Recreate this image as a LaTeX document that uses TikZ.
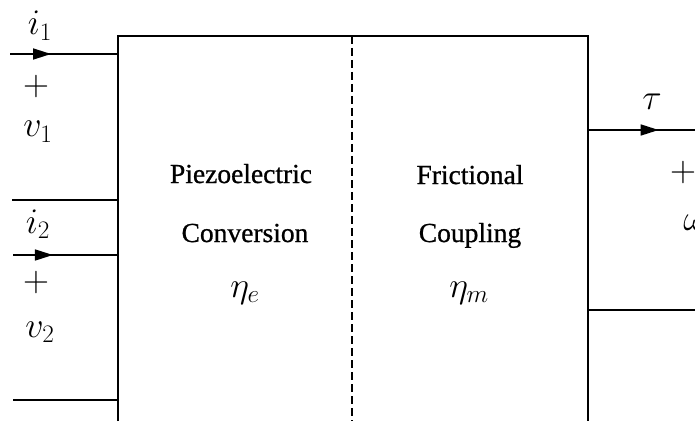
\RequirePackage{fix-cm}
\documentclass[tikz,border=0pt]{standalone}
\usepackage{fontspec}
\setmainfont{Liberation Serif}
\newfontfamily\boxfont{Liberation Serif}[FakeBold=0.8]
\usetikzlibrary{arrows.meta,decorations.markings}
\tikzset{
  wire/.style={line width=1.7pt},
  flowwire/.style={line width=1.7pt, postaction={decorate}, decoration={markings, mark=at position #1 with {\arrow{Triangle[length=18pt,width=11pt]}}}},
  boxline/.style={line width=2pt},
  sep/.style={line width=2pt, dash pattern=on 8pt off 4pt},
  lbl/.style={inner sep=0pt, anchor=base, font=\boxfont\fontsize{27.5}{32}\selectfont},
  mlbl/.style={inner sep=0pt, anchor=base, font=\fontsize{36}{42}\selectfont},
}
\begin{document}
\begin{tikzpicture}[x=1pt,y=-1pt]
\useasboundingbox (0,0) rectangle (695,422);
% box corners
\coordinate (tl) at (118,36);
\coordinate (tr) at (588,36);
\coordinate (bl) at (118,421);
\coordinate (br) at (588,421);
\coordinate (dt) at (352,36);
\coordinate (db) at (352,421);
\draw[boxline] (bl) -- (tl) -- (tr) -- (br);
\draw[sep] (dt) -- (db);
% left port wires
\coordinate (a1) at (10,54);   \coordinate (b1) at (118,54);
\coordinate (a2) at (12,200);  \coordinate (b2) at (118,200);
\coordinate (a3) at (13,255);  \coordinate (b3) at (118,255);
\coordinate (a4) at (13,400);  \coordinate (b4) at (118,400);
\draw[flowwire=0.38] (a1) -- (b1);
\draw[wire] (a2) -- (b2);
\draw[flowwire=0.38] (a3) -- (b3);
\draw[wire] (a4) -- (b4);
% right port wires
\coordinate (c1) at (588,130); \coordinate (d1) at (695,130);
\coordinate (c2) at (588,310); \coordinate (d2) at (695,310);
\draw[flowwire=0.66] (c1) -- (d1);
\draw[wire] (c2) -- (d2);
% left labels
\node[mlbl] (i1) at (40,35) {$i_1$};
\node[mlbl] (p1) at (36,96) {$+$};
\node[mlbl] (v1) at (38,137) {$v_1$};
\node[mlbl] (i2) at (38,233) {$i_2$};
\node[mlbl] (p2) at (36,291) {$+$};
\node[mlbl] (v2) at (40,337) {$v_2$};
% right labels
\node[mlbl] (tau) at (652,110) {$\tau$};
\node[mlbl] (p3) at (683,181) {$+$};
\node[mlbl] (om) at (695,230) {$\omega$};
% box texts
\node[lbl] (t1) at (241,183) {Piezoelectric};
\node[lbl] (t2) at (245,242) {Conversion};
\node[mlbl] (e1) at (245,297) {$\eta_e$};
\node[lbl] (t3) at (470,184) {Frictional};
\node[lbl] (t4) at (470,242) {Coupling};
\node[mlbl] (e2) at (469,297) {$\eta_m$};
\end{tikzpicture}
\end{document}
